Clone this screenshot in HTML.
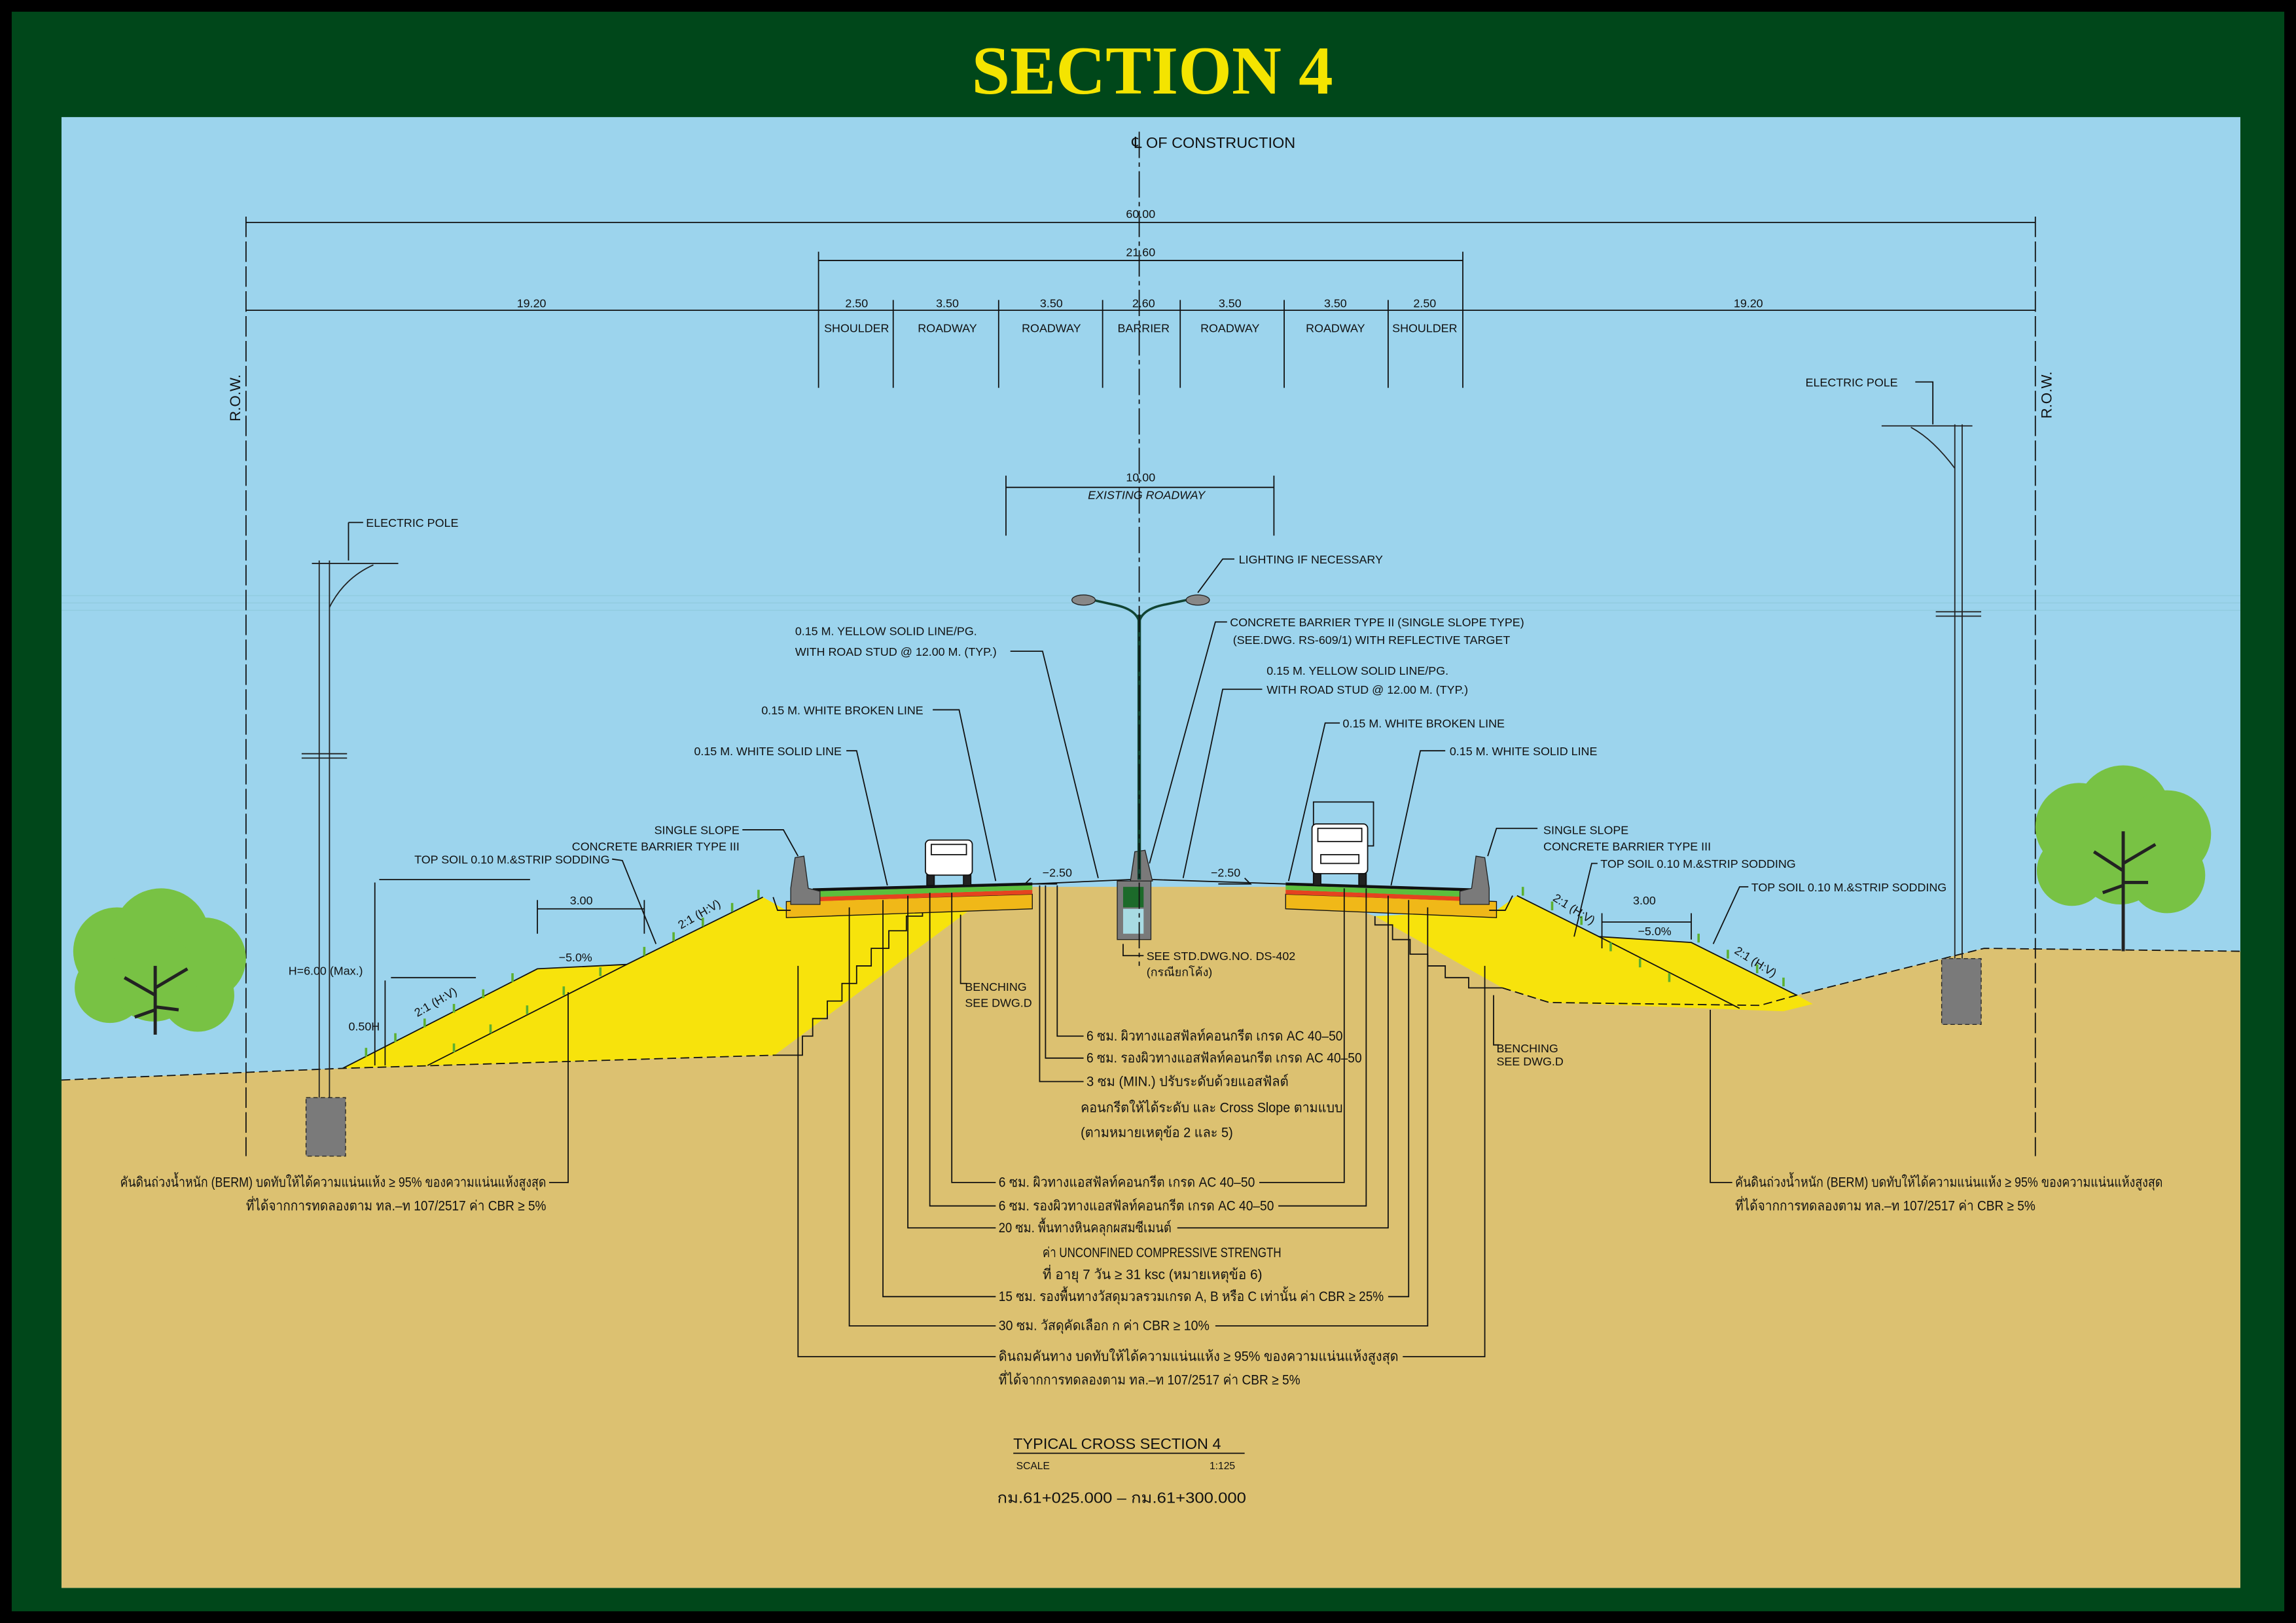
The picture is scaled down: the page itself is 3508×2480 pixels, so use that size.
<!DOCTYPE html>
<html><head><meta charset="utf-8"><style>
html,body{margin:0;padding:0;background:#000;width:3508px;height:2480px;overflow:hidden}
svg{display:block}
text{font-family:"Liberation Sans","Noto Sans CJK SC",sans-serif;fill:#111}
.s{font-size:8px}
.t{font-size:9.5px}
.ln{stroke:#111;stroke-width:0.8;fill:none}
</style></head><body>
<svg width="3508" height="2480" viewBox="0 0 1568 1109" preserveAspectRatio="none" xmlns="http://www.w3.org/2000/svg">
<rect x="0" y="0" width="1568" height="1109" fill="#000"/>
<rect x="8" y="8" width="1552" height="1093" fill="#00471a"/>
<text x="787" y="64" text-anchor="middle" style="font-family:'Liberation Serif',serif;font-weight:bold;font-size:47px;fill:#f4e400">SECTION 4</text>
<rect x="42" y="80" width="1488" height="1005" fill="#9cd4ed"/>
<g stroke="#8cc8d8" stroke-width="0.6" opacity="0.7">
<line x1="42" y1="407" x2="1530" y2="407"/><line x1="42" y1="412" x2="1530" y2="412"/><line x1="42" y1="417" x2="1530" y2="417"/>
</g>
<polygon fill="#dcc171" points="42,738 234,730 529,721 662,622 705,606 878,606 939,626 1026,675 1058,685 1202,687 1227,680 1355,648 1530,650 1530,1085 42,1085"/>
<polygon fill="#f7e30c" points="234,730 367,662 428,659 521,613 537,622 662,622 529,721"/>
<polygon fill="#f7e30c" points="1036,612 1092,640 1155,644 1227,680 1238,686 1218,691 1190,690 1058,685 1026,675 939,626 1022,622"/>
<polyline class="ln" stroke-width="1.2" points="234,730 367,662 428,659 521,613"/>
<line class="ln" stroke-width="1.2" x1="292" y1="728" x2="428" y2="659"/>
<polyline class="ln" stroke-width="1.2" points="1036,612 1092,640 1155,644 1227,680"/>
<line class="ln" stroke-width="1.2" x1="1092" y1="640" x2="1188" y2="689"/>
<polyline class="ln" stroke-width="1.2" stroke-dasharray="6,3" points="42,738 234,730 529,721"/>
<polyline class="ln" stroke-width="1.2" stroke-dasharray="6,3" points="1026,675 1058,685 1202,687 1227,680 1355,648 1530,650"/>
<polyline class="ln" points="529,721 548,721 548,708 555,708 555,696 565,696 565,684 575,684 575,672 585,672 585,660 595,660 595,648 607,648 607,636 619,636 619,626 630,626 630,622 662,622"/>
<polyline class="ln" points="939,626 939,632 951,632 951,642 963,642 963,652 975,652 975,660 987,660 987,668 1003,668 1003,675 1026,675"/>
<g stroke="#5cb030" stroke-width="1.6">
<line x1="250" y1="722" x2="250" y2="716"/><line x1="270" y1="712" x2="270" y2="706"/><line x1="290" y1="702" x2="290" y2="696"/><line x1="310" y1="692" x2="310" y2="686"/><line x1="330" y1="682" x2="330" y2="676"/><line x1="350" y1="671" x2="350" y2="665"/>
<line x1="310" y1="719" x2="310" y2="713"/><line x1="335" y1="706" x2="335" y2="700"/><line x1="360" y1="693" x2="360" y2="687"/><line x1="385" y1="680" x2="385" y2="674"/><line x1="410" y1="667" x2="410" y2="661"/>
<line x1="440" y1="653" x2="440" y2="647"/><line x1="460" y1="643" x2="460" y2="637"/><line x1="480" y1="633" x2="480" y2="627"/><line x1="500" y1="623" x2="500" y2="617"/><line x1="518" y1="614" x2="518" y2="608"/>
<line x1="1040" y1="612" x2="1040" y2="606"/><line x1="1060" y1="622" x2="1060" y2="616"/><line x1="1080" y1="632" x2="1080" y2="626"/><line x1="1100" y1="650" x2="1100" y2="644"/><line x1="1120" y1="661" x2="1120" y2="655"/><line x1="1140" y1="671" x2="1140" y2="665"/><line x1="1160" y1="644" x2="1160" y2="638"/><line x1="1180" y1="655" x2="1180" y2="649"/><line x1="1200" y1="665" x2="1200" y2="659"/><line x1="1218" y1="674" x2="1218" y2="668"/>
</g>
<polygon fill="#f0b818" stroke="#111" stroke-width="0.6" points="537,616 705,611 705,621 537,627"/>
<polygon fill="#e5431f" points="552,613 705,608 705,611 552,616"/>
<polygon fill="#5cbf3c" points="555,609 705,605 705,608 555,613"/>
<polygon fill="#111" points="555,607 705,603 705,605 555,609"/>
<polygon fill="#f0b818" stroke="#111" stroke-width="0.6" points="878,611 1022,616 1022,627 878,621"/>
<polygon fill="#e5431f" points="878,608 1008,613 1008,616 878,611"/>
<polygon fill="#5cbf3c" points="878,605 1005,609 1005,613 878,608"/>
<polygon fill="#111" points="878,603 1005,607 1005,609 878,605"/>
<polyline class="ln" stroke-width="1.6" points="705,604 772,601"/><polyline class="ln" stroke-width="1.6" points="787,601 878,604"/>
<polygon fill="#7a7a7a" stroke="#222" stroke-width="0.6" points="540,607 543,586 549,585 552,607 560,609 560,618 540,618"/>
<polygon fill="#7a7a7a" stroke="#222" stroke-width="0.6" points="1017,607 1014,586 1008,585 1005,607 997,609 997,618 1017,618"/>
<polyline class="ln" points="528,613 531,622 540,622"/><polyline class="ln" points="1017,622 1028,622 1033,612"/>
<polygon fill="#7a7a7a" stroke="#222" stroke-width="0.6" points="772,602 775,582 782,581 787,602"/>
<rect x="763" y="602" width="23" height="40" fill="#7a7a7a" stroke="#222" stroke-width="0.6"/>
<rect x="767" y="606" width="14" height="14" fill="#1c6a2a"/>
<rect x="767" y="621" width="14" height="17" fill="#a8dbe3"/>
<line x1="778" y1="420" x2="778" y2="601" stroke="#143" stroke-width="2.4"/>
<path d="M778,425 Q776,416 760,413 L742,409 M778,425 Q780,416 796,413 L815,409" stroke="#143" stroke-width="1.6" fill="none"/>
<ellipse cx="740" cy="410" rx="8" ry="3.5" fill="#888" stroke="#222" stroke-width="0.6"/>
<ellipse cx="818" cy="410" rx="8" ry="3.5" fill="#888" stroke="#222" stroke-width="0.6"/>
<g stroke="#111" stroke-width="0.8" fill="#fff">
<rect x="632" y="574" width="32" height="24" rx="3"/><rect x="636" y="577" width="24" height="7"/>
<rect x="633" y="598" width="5" height="7" fill="#222"/><rect x="658" y="598" width="5" height="7" fill="#222"/>
<rect x="897" y="548" width="41" height="30" fill="none"/>
<rect x="896" y="563" width="38" height="34" rx="3"/><rect x="900" y="566" width="30" height="9"/>
<rect x="902" y="584" width="26" height="6"/>
<rect x="897" y="597" width="5" height="8" fill="#222"/><rect x="928" y="597" width="5" height="8" fill="#222"/>
</g>
<g class="ln">
<line x1="168" y1="152" x2="1390" y2="152"/><line x1="559" y1="178" x2="999" y2="178"/>
<line x1="168" y1="212" x2="1390" y2="212"/>
<line x1="168" y1="148" x2="168" y2="790" stroke-dasharray="14,3"/>
<line x1="1390" y1="148" x2="1390" y2="790" stroke-dasharray="14,3"/>
<line x1="559" y1="172" x2="559" y2="265"/><line x1="610" y1="205" x2="610" y2="265"/><line x1="682" y1="205" x2="682" y2="265"/><line x1="753" y1="205" x2="753" y2="265"/><line x1="806" y1="205" x2="806" y2="265"/><line x1="877" y1="205" x2="877" y2="265"/><line x1="948" y1="205" x2="948" y2="265"/><line x1="999" y1="172" x2="999" y2="265"/>
<line x1="778" y1="90" x2="778" y2="660" stroke-dasharray="18,3,3,3"/>
<line x1="687" y1="333" x2="870" y2="333"/><line x1="687" y1="325" x2="687" y2="366"/><line x1="870" y1="325" x2="870" y2="366"/>
<line x1="367" y1="621" x2="440" y2="621"/><line x1="367" y1="615" x2="367" y2="638"/><line x1="440" y1="615" x2="440" y2="638"/>
<line x1="1094" y1="630" x2="1155" y2="630"/><line x1="1094" y1="624" x2="1094" y2="648"/><line x1="1155" y1="624" x2="1155" y2="642"/>
<line x1="259" y1="601" x2="362" y2="601"/><line x1="256" y1="603" x2="256" y2="728"/>
<line x1="267" y1="668" x2="325" y2="668"/><line x1="263" y1="670" x2="263" y2="728"/>
<polyline points="704,600 700,604 722,604"/><polyline points="850,600 854,604 832,604"/>
</g>
<g class="s" text-anchor="middle">
<text x="779" y="149">60.00</text><text x="779" y="175">21.60</text>
<text x="363" y="210">19.20</text><text x="585" y="210">2.50</text><text x="647" y="210">3.50</text><text x="718" y="210">3.50</text><text x="781" y="210">2.60</text><text x="840" y="210">3.50</text><text x="912" y="210">3.50</text><text x="973" y="210">2.50</text><text x="1194" y="210">19.20</text>
<text x="585" y="227">SHOULDER</text><text x="647" y="227">ROADWAY</text><text x="718" y="227">ROADWAY</text><text x="781" y="227">BARRIER</text><text x="840" y="227">ROADWAY</text><text x="912" y="227">ROADWAY</text><text x="973" y="227">SHOULDER</text>
<text x="779" y="329">10.00</text><text x="783" y="341" font-style="italic">EXISTING ROADWAY</text>
<text x="397" y="618">3.00</text><text x="393" y="657">−5.0%</text>
<text x="1123" y="618">3.00</text><text x="1130" y="639">−5.0%</text>
<text x="722" y="599">−2.50</text><text x="837" y="599">−2.50</text>
</g>
<text x="773" y="101" style="font-size:10.5px">℄ OF CONSTRUCTION</text>
<text transform="translate(164,288) rotate(-90)" class="s" style="font-size:10px">R.O.W.</text>
<text transform="translate(1401,286) rotate(-90)" class="s" style="font-size:10px">R.O.W.</text>
<g class="s">
<text transform="translate(465,635) rotate(-30)">2:1 (H:V)</text>
<text transform="translate(285,695) rotate(-30)">2:1 (H:V)</text>
<text transform="translate(1060,615) rotate(32)">2:1 (H:V)</text>
<text transform="translate(1184,651) rotate(32)">2:1 (H:V)</text>
<text x="197" y="666">H=6.00 (Max.)</text><text x="238" y="704">0.50H</text>
</g>
<g stroke="#222" stroke-width="0.8" fill="none">
<line x1="218" y1="383" x2="218" y2="750"/><line x1="225" y1="383" x2="225" y2="750"/>
<line x1="213" y1="385" x2="272" y2="385"/><path d="M225,415 Q235,395 255,386"/>
<line x1="1335" y1="290" x2="1335" y2="655"/><line x1="1340" y1="290" x2="1340" y2="655"/>
<line x1="1285" y1="291" x2="1347" y2="291"/><path d="M1335,320 Q1320,300 1305,292"/>
<line x1="206" y1="515" x2="237" y2="515"/><line x1="206" y1="518" x2="237" y2="518"/>
<line x1="1322" y1="418" x2="1353" y2="418"/><line x1="1322" y1="421" x2="1353" y2="421"/>
</g>
<rect x="209" y="750" width="27" height="40" fill="#7a7a7a" stroke="#222" stroke-width="0.6" stroke-dasharray="3,2"/>
<rect x="1326" y="655" width="27" height="45" fill="#7a7a7a" stroke="#222" stroke-width="0.6" stroke-dasharray="3,2"/>
<g fill="#78c244">
<circle cx="80" cy="650" r="30"/><circle cx="110" cy="640" r="33"/><circle cx="140" cy="655" r="28"/><circle cx="75" cy="675" r="24"/><circle cx="135" cy="680" r="25"/><circle cx="105" cy="668" r="30"/>
<circle cx="1420" cy="565" r="30"/><circle cx="1450" cy="555" r="32"/><circle cx="1480" cy="570" r="30"/><circle cx="1415" cy="595" r="24"/><circle cx="1480" cy="598" r="26"/><circle cx="1448" cy="588" r="30"/>
</g>
<g stroke="#222" stroke-width="2.2" fill="none">
<path d="M106,707 L106,660 M106,680 L85,668 M106,675 L128,662 M106,690 L92,695 M106,688 L122,690"/>
<path d="M1450,650 L1450,568 M1450,595 L1430,582 M1450,590 L1472,577 M1450,605 L1436,610 M1450,603 L1467,603"/>
</g>
<g class="ln">
<line x1="238" y1="357" x2="248" y2="357"/><line x1="238" y1="357" x2="238" y2="383"/>
<polyline points="1308,261 1320,261 1320,290"/>
<polyline points="843,382 835,382 818,405"/>
<polyline points="838,425 830,425 785,590"/>
<polyline points="690,445 712,445 750,600"/>
<polyline points="862,471 835,471 808,600"/>
<polyline points="637,485 655,485 680,602"/>
<polyline points="578,513 585,513 606,605"/>
<polyline points="915,494 905,494 880,602"/>
<polyline points="987,513 970,513 950,605"/>
<polyline points="507,567 535,567 545,585"/>
<polyline points="418,587 425,588 448,645"/>
<polyline points="1050,566 1022,566 1016,585"/>
<polyline points="1091,590 1087,590 1075,640"/>
<polyline points="1194,606 1188,606 1170,645"/>
<polyline points="767,645 767,653 781,653"/>
<polyline points="656,625 656,672 660,672"/>
<polyline points="1020,680 1020,714 1024,714"/>
<polyline points="722,605 722,708 740,708"/>
<polyline points="714,605 714,723 740,723"/>
<polyline points="710,605 710,739 740,739"/>
<polyline points="650,610 650,808 680,808"/><polyline points="860,808 918,808 918,607"/>
<polyline points="635,610 635,824 680,824"/><polyline points="873,824 933,824 933,607"/>
<polyline points="620,612 620,839 680,839"/><polyline points="804,839 948,839 948,612"/>
<polyline points="603,615 603,886 680,886"/><polyline points="948,886 962,886 962,615"/>
<polyline points="580,620 580,906 680,906"/><polyline points="830,906 975,906 975,620"/>
<polyline points="545,660 545,927 680,927"/><polyline points="958,927 1014,927 1014,660"/>
<polyline points="375,808 388,808 388,678"/>
<polyline points="1183,808 1168,808 1168,690"/>
<line x1="692" y1="993" x2="850" y2="993"/>
</g>
<g class="s">
<text x="250" y="360">ELECTRIC POLE</text>
<text x="1233" y="264">ELECTRIC POLE</text>
<text x="846" y="385">LIGHTING IF NECESSARY</text>
<text x="840" y="428">CONCRETE BARRIER TYPE II (SINGLE SLOPE TYPE)</text>
<text x="842" y="440">(SEE.DWG. RS-609/1) WITH REFLECTIVE TARGET</text>
<text x="543" y="434">0.15 M. YELLOW SOLID LINE/PG.</text>
<text x="543" y="448">WITH ROAD STUD @ 12.00 M. (TYP.)</text>
<text x="865" y="461">0.15 M. YELLOW SOLID LINE/PG.</text>
<text x="865" y="474">WITH ROAD STUD @ 12.00 M. (TYP.)</text>
<text x="520" y="488">0.15 M. WHITE  BROKEN LINE</text>
<text x="474" y="516">0.15 M. WHITE SOLID LINE</text>
<text x="917" y="497">0.15 M. WHITE BROKEN LINE</text>
<text x="990" y="516">0.15 M. WHITE SOLID LINE</text>
<text x="505" y="570" text-anchor="end">SINGLE SLOPE</text>
<text x="505" y="581" text-anchor="end">CONCRETE BARRIER TYPE III</text>
<text x="283" y="590">TOP SOIL 0.10 M.&amp;STRIP SODDING</text>
<text x="1054" y="570">SINGLE SLOPE</text>
<text x="1054" y="581">CONCRETE BARRIER TYPE III</text>
<text x="1093" y="593">TOP SOIL 0.10 M.&amp;STRIP SODDING</text>
<text x="1196" y="609">TOP SOIL 0.10 M.&amp;STRIP SODDING</text>
<text x="783" y="656">SEE STD.DWG.NO. DS-402</text>
<text x="783" y="667">(กรณียกโค้ง)</text>
<text x="659" y="677">BENCHING</text><text x="659" y="688">SEE DWG.D</text>
<text x="1022" y="719">BENCHING</text><text x="1022" y="728">SEE DWG.D</text>
<text x="694" y="1004" style="font-size:7px">SCALE</text><text x="826" y="1004" style="font-size:7px">1:125</text>
</g>
<g class="t">
<text x="742" y="711" textLength="175" lengthAdjust="spacingAndGlyphs">6 ซม. ผิวทางแอสฟัลท์คอนกรีต เกรด AC 40–50</text>
<text x="742" y="726" textLength="188" lengthAdjust="spacingAndGlyphs">6 ซม. รองผิวทางแอสฟัลท์คอนกรีต เกรด AC 40–50</text>
<text x="742" y="742" textLength="138" lengthAdjust="spacingAndGlyphs">3 ซม (MIN.) ปรับระดับด้วยแอสฟัลต์</text>
<text x="738" y="760" textLength="179" lengthAdjust="spacingAndGlyphs">คอนกรีตให้ได้ระดับ และ Cross Slope ตามแบบ</text>
<text x="738" y="777" textLength="104" lengthAdjust="spacingAndGlyphs">(ตามหมายเหตุข้อ 2 และ 5)</text>
<text x="682" y="811" textLength="175" lengthAdjust="spacingAndGlyphs">6 ซม. ผิวทางแอสฟัลท์คอนกรีต เกรด AC 40–50</text>
<text x="682" y="827" textLength="188" lengthAdjust="spacingAndGlyphs">6 ซม. รองผิวทางแอสฟัลท์คอนกรีต เกรด AC 40–50</text>
<text x="682" y="842" textLength="118" lengthAdjust="spacingAndGlyphs">20 ซม. พื้นทางหินคลุกผสมซีเมนต์</text>
<text x="712" y="859" textLength="163" lengthAdjust="spacingAndGlyphs">ค่า UNCONFINED COMPRESSIVE STRENGTH</text>
<text x="712" y="874" textLength="150" lengthAdjust="spacingAndGlyphs">ที่ อายุ 7 วัน ≥ 31 ksc (หมายเหตุข้อ 6)</text>
<text x="682" y="889" textLength="263" lengthAdjust="spacingAndGlyphs">15 ซม. รองพื้นทางวัสดุมวลรวมเกรด A, B หรือ C เท่านั้น ค่า CBR ≥ 25%</text>
<text x="682" y="909" textLength="144" lengthAdjust="spacingAndGlyphs">30 ซม. วัสดุคัดเลือก ก ค่า CBR ≥ 10%</text>
<text x="682" y="930" textLength="273" lengthAdjust="spacingAndGlyphs">ดินถมคันทาง บดทับให้ได้ความแน่นแห้ง ≥ 95% ของความแน่นแห้งสูงสุด</text>
<text x="682" y="946" textLength="206" lengthAdjust="spacingAndGlyphs">ที่ได้จากการทดลองตาม ทล.–ท 107/2517 ค่า CBR ≥ 5%</text>
<text x="82" y="811" textLength="291" lengthAdjust="spacingAndGlyphs">คันดินถ่วงน้ำหนัก (BERM) บดทับให้ได้ความแน่นแห้ง ≥ 95% ของความแน่นแห้งสูงสุด</text>
<text x="168" y="827" textLength="205" lengthAdjust="spacingAndGlyphs">ที่ได้จากการทดลองตาม ทล.–ท 107/2517 ค่า CBR ≥ 5%</text>
<text x="1185" y="811" textLength="292" lengthAdjust="spacingAndGlyphs">คันดินถ่วงน้ำหนัก (BERM) บดทับให้ได้ความแน่นแห้ง ≥ 95% ของความแน่นแห้งสูงสุด</text>
<text x="1185" y="827" textLength="205" lengthAdjust="spacingAndGlyphs">ที่ได้จากการทดลองตาม ทล.–ท 107/2517 ค่า CBR ≥ 5%</text>
<text x="692" y="990" style="font-size:10.5px">TYPICAL CROSS SECTION 4</text>
<text x="681" y="1027" style="font-size:10.5px" textLength="170" lengthAdjust="spacingAndGlyphs">กม.61+025.000 – กม.61+300.000</text>
</g>
</svg>
</body></html>
